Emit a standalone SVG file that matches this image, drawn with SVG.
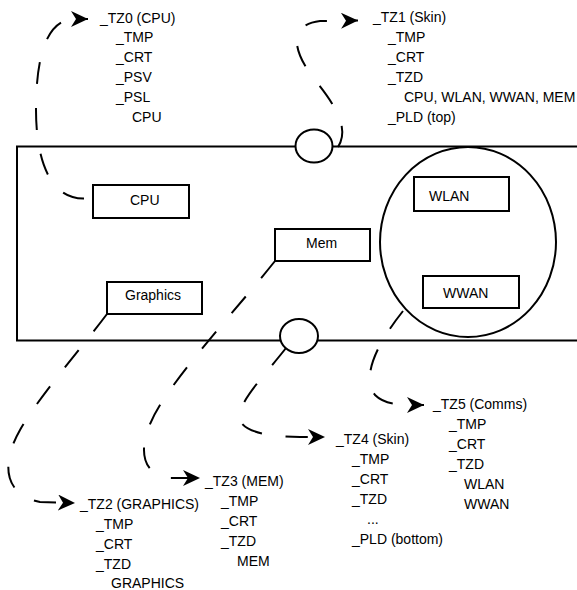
<svg xmlns="http://www.w3.org/2000/svg" width="577" height="590" viewBox="0 0 577 590">
<style>
.t{font-family:"Liberation Sans",Arial,sans-serif;font-size:14px;fill:#000}
.box{fill:#fff;stroke:#000;stroke-width:2}
.frame{fill:none;stroke:#000;stroke-width:2}
.conn{fill:none;stroke:#000;stroke-width:2;stroke-dasharray:22 24;marker-end:url(#arr)}
</style>
<defs>
<marker id="arr" markerUnits="userSpaceOnUse" viewBox="0 0 17 16" refX="17" refY="8" markerWidth="17" markerHeight="16" orient="auto">
<path d="M0,0 L17,8 L0,16 L5,8 Z" fill="#000"/>
</marker>
</defs>
<rect id="platform" class="frame" x="17" y="146.5" width="600" height="194"/>
<g id="connectors">
<path class="conn" d="M84,198.5 C50,199 36,160 36,110 C36,60 45,22 72,19 L88,19"/>
<path class="conn" d="M338,147 C350,128 335,105 315,80 C295,55 285,25 320,21 L358,20.5"/>
<path class="conn" d="M107,314 C80,350 40,395 20,430 C0,465 5,495 40,502 L75,503"/>
<path class="conn" d="M275,261 C240,305 185,365 160,405 C135,445 140,475 170,478 L200,478"/>
<path class="conn" d="M286,348 C265,375 235,405 240,420 C244,432 270,437 300,437 L325,437"/>
<path class="conn" d="M403,311 C380,340 360,375 375,395 C385,405 400,405 424,405"/>
</g>
<g id="top-circle"><ellipse class="box" cx="314" cy="146" rx="18.5" ry="16.5"/></g>
<g id="bottom-circle"><ellipse class="box" cx="299" cy="336" rx="19" ry="17"/></g>
<g id="comms"><ellipse class="frame" cx="468" cy="242" rx="88" ry="95"/></g>
<g id="cpu"><rect class="box" x="93" y="185" width="96" height="33"/><text class="t" x="130" y="205">CPU</text></g>
<g id="graphics"><rect class="box" x="107" y="282" width="95" height="32"/><text class="t" x="125" y="300">Graphics</text></g>
<g id="mem"><rect class="box" x="275" y="229" width="95" height="32"/><text class="t" x="306" y="248">Mem</text></g>
<g id="wlan"><rect class="box" x="414" y="177" width="95" height="34"/><text class="t" x="429" y="201">WLAN</text></g>
<g id="wwan"><rect class="box" x="423" y="276" width="96" height="32"/><text class="t" x="443" y="298">WWAN</text></g>
<g id="tz0" class="t">
<text x="100" y="23">_TZ0 (CPU)</text>
<text x="116" y="42">_TMP</text>
<text x="116" y="62">_CRT</text>
<text x="116" y="82">_PSV</text>
<text x="116" y="102">_PSL</text>
<text x="132" y="122">CPU</text>
</g>
<g id="tz1" class="t">
<text x="373" y="22">_TZ1 (Skin)</text>
<text x="388" y="42">_TMP</text>
<text x="388" y="62">_CRT</text>
<text x="388" y="82">_TZD</text>
<text x="404" y="102">CPU, WLAN, WWAN, MEM</text>
<text x="388" y="122">_PLD (top)</text>
</g>
<g id="tz2" class="t">
<text x="80" y="509">_TZ2 (GRAPHICS)</text>
<text x="96" y="529">_TMP</text>
<text x="96" y="549">_CRT</text>
<text x="96" y="569">_TZD</text>
<text x="111" y="588">GRAPHICS</text>
</g>
<g id="tz3" class="t">
<text x="205" y="486">_TZ3 (MEM)</text>
<text x="221" y="506">_TMP</text>
<text x="221" y="526">_CRT</text>
<text x="221" y="546">_TZD</text>
<text x="237" y="566">MEM</text>
</g>
<g id="tz4" class="t">
<text x="336" y="444">_TZ4 (Skin)</text>
<text x="352" y="464">_TMP</text>
<text x="352" y="484">_CRT</text>
<text x="352" y="504">_TZD</text>
<text x="367" y="524">...</text>
<text x="352" y="544">_PLD (bottom)</text>
</g>
<g id="tz5" class="t">
<text x="433" y="409">_TZ5 (Comms)</text>
<text x="449" y="429">_TMP</text>
<text x="449" y="449">_CRT</text>
<text x="449" y="469">_TZD</text>
<text x="464" y="489">WLAN</text>
<text x="464" y="509">WWAN</text>
</g>
</svg>
